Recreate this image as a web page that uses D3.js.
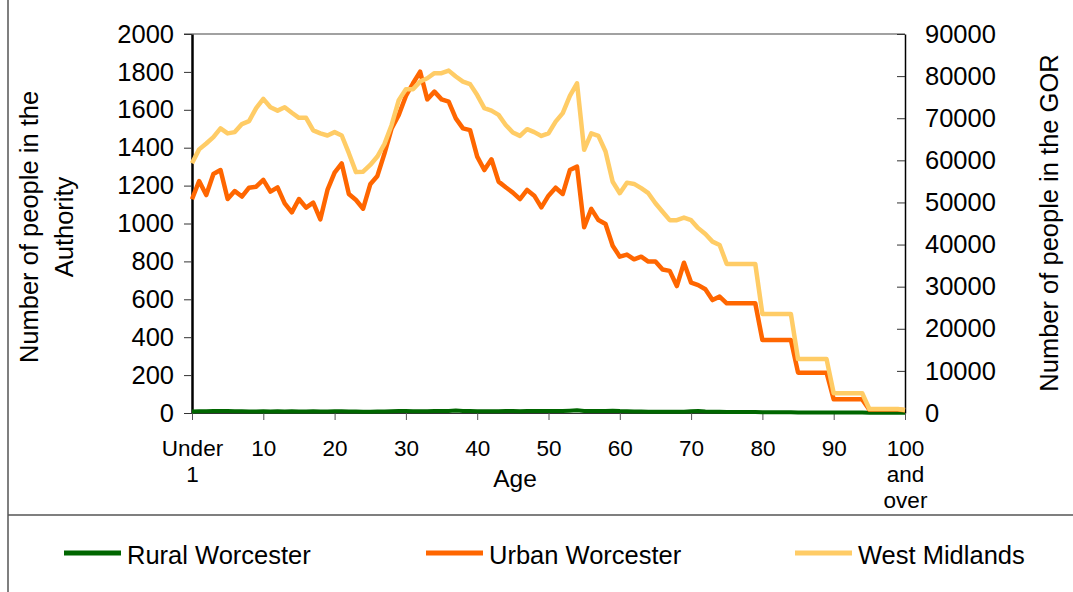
<!DOCTYPE html>
<html>
<head>
<meta charset="utf-8">
<script src="https://cdn.jsdelivr.net/npm/d3@7"></script>
<style>
  body { margin: 0; background: #fff; }
  svg { display: block; font-family: 'Liberation Sans', Arial, sans-serif; }
</style>
</head>
<body>
<div id="chart"></div>
<script>
/* global d3 */

// Ages 0 ("Under 1") to 100 ("100 and over")
const ages = d3.range(0, 101)

const tickAges = [0, 10, 20, 30, 40, 50, 60, 70, 80, 90, 100]
const tickLabels = [['Under', '1'], ['10'], ['20'], ['30'], ['40'], ['50'], ['60'], ['70'], ['80'], ['90'], ['100', 'and', 'over']]

const leftTicks = [0, 200, 400, 600, 800, 1000, 1200, 1400, 1600, 1800, 2000]
const rightTicks = [0, 10000, 20000, 30000, 40000, 50000, 60000, 70000, 80000, 90000]

// Number of people in the Authority (left axis)
const ruralWorcester = [
  8, 9, 9, 10, 10, 10, 9, 9, 8, 8,
  9, 8, 9, 8, 9, 8, 8, 9, 8, 8,
  9, 9, 8, 8, 7, 7, 8, 8, 9, 10,
  10, 9, 9, 9, 10, 10, 11, 13, 11, 10,
  9, 9, 9, 9, 10, 10, 9, 10, 10, 10,
  11, 10, 10, 12, 14, 11, 10, 10, 10, 12,
  10, 9, 8, 8, 7, 7, 7, 7, 7, 7,
  9, 10, 8, 7, 6, 5, 5, 5, 5, 5,
  4, 4, 4, 4, 4, 3, 3, 3, 3, 3,
  2, 2, 2, 2, 2, 1, 1, 1, 1, 1,
  1
]

const urbanWorcester = [
  1128, 1224, 1150, 1261, 1282, 1129, 1171, 1142, 1189, 1194,
  1230, 1168, 1191, 1106, 1059, 1129, 1084, 1110, 1022, 1177,
  1268, 1317, 1156, 1124, 1078, 1207, 1251, 1370, 1502, 1573,
  1673, 1740, 1801, 1655, 1696, 1655, 1643, 1555, 1502, 1493,
  1353, 1282, 1339, 1221, 1191, 1163, 1129, 1177, 1147, 1085,
  1147, 1189, 1156, 1282, 1300, 980, 1077, 1018, 997, 883,
  825, 836, 811, 825, 799, 800, 757, 750, 670, 793,
  688, 675, 653, 596, 614, 579, 579, 579, 579, 579,
  385, 385, 385, 385, 385, 213, 213, 213, 213, 213,
  72, 72, 72, 72, 72, 18, 18, 18, 18, 18,
  15
]

// Number of people in the GOR (right axis)
const westMidlands = [
  59300, 62600, 64000, 65500, 67600, 66400, 66700, 68600, 69300, 72400,
  74600, 72600, 71800, 72600, 71300, 70100, 70100, 67100, 66400, 65900,
  66700, 65900, 61700, 57200, 57300, 58900, 60900, 63900, 68400, 74300,
  76900, 76900, 78700, 79500, 80700, 80700, 81300, 79900, 78700, 78100,
  75500, 72400, 71800, 70800, 68400, 66600, 65800, 67400, 66700, 65800,
  66400, 69200, 71200, 75300, 78300, 62500, 66400, 65800, 62100, 54900,
  52200, 54700, 54400, 53400, 52200, 49800, 47800, 45800, 45800, 46400,
  45800, 43900, 42500, 40700, 39900, 35400, 35400, 35400, 35400, 35400,
  23500, 23500, 23500, 23500, 23500, 12800, 12800, 12800, 12800, 12800,
  4700, 4700, 4700, 4700, 4700, 950, 950, 950, 950, 950,
  700
]

const seriesNames = ['Rural Worcester', 'Urban Worcester', 'West Midlands']
const seriesColors = ['#006600', '#ff6600', '#ffcc66']

// Our canvas
const width = 1073,
  height = 592,
  plotLeft = 192,
  plotRight = 905,
  plotTop = 34,
  plotBottom = 413

let svg = d3.select('#chart')
  .append('svg')
  .attr('width', width)
  .attr('height', height)

const x = d3.scaleLinear().domain([0, 100]).range([plotLeft, plotRight])
const yLeft = d3.scaleLinear().domain([0, 2000]).range([plotBottom, plotTop])
const yRight = d3.scaleLinear().domain([0, 90000]).range([plotBottom, plotTop])

// outer frame pieces
svg.append('line')
  .attr('x1', 8).attr('x2', 8).attr('y1', 0).attr('y2', height)
  .attr('stroke', '#555').attr('stroke-width', 1.5)
svg.append('line')
  .attr('x1', 8).attr('x2', width).attr('y1', 515).attr('y2', 515)
  .attr('stroke', '#555').attr('stroke-width', 1.5)

// plot area top border
svg.append('line')
  .attr('x1', plotLeft - 8).attr('x2', plotRight).attr('y1', plotTop).attr('y2', plotTop)
  .attr('stroke', '#444').attr('stroke-width', 1.2)

// left axis
const gLeft = svg.append('g')
  .attr('transform', `translate(${plotLeft}, 0)`)
  .call(d3.axisLeft(yLeft).tickValues(leftTicks).tickFormat(d3.format('d'))
    .tickSizeInner(8).tickSizeOuter(0).tickPadding(10))
gLeft.attr('font-family', null).attr('font-size', null)
gLeft.select('.domain').attr('stroke', '#000').attr('stroke-width', 2.5)
gLeft.selectAll('.tick line').attr('stroke', '#333')
gLeft.selectAll('.tick text').attr('font-size', 25.5).attr('fill', '#000')

// right axis
const gRight = svg.append('g')
  .attr('transform', `translate(${plotRight}, 0)`)
  .call(d3.axisRight(yRight).tickValues(rightTicks).tickFormat(d3.format('d'))
    .tickSizeInner(-8).tickSizeOuter(0).tickPadding(20))
gRight.attr('font-family', null).attr('font-size', null)
gRight.select('.domain').attr('stroke', '#000').attr('stroke-width', 1.5)
gRight.selectAll('.tick line').attr('stroke', '#333')
gRight.selectAll('.tick text').attr('font-size', 25.5).attr('fill', '#000')

// bottom axis
const gBottom = svg.append('g')
  .attr('transform', `translate(0, ${plotBottom})`)
  .call(d3.axisBottom(x).tickValues(tickAges).tickSizeInner(7).tickSizeOuter(0).tickFormat(''))
gBottom.attr('font-family', null).attr('font-size', null)
gBottom.select('.domain').attr('stroke', '#333')
gBottom.selectAll('.tick line').attr('stroke', '#555')
gBottom.selectAll('.tick').each(function (d, i) {
  const t = d3.select(this).select('text')
    .attr('y', 43)
    .attr('dy', null)
    .attr('font-size', 22.5)
    .attr('fill', '#000')
  tickLabels[i].forEach((s, j) => {
    t.append('tspan').attr('x', 0).attr('dy', j === 0 ? 0 : 26).text(s)
  })
})

// series
const line = (scale) => d3.line()
  .x((d, i) => x(ages[i]))
  .y(d => scale(d))

const series = [
  { values: ruralWorcester, scale: yLeft, width: 4 },
  { values: urbanWorcester, scale: yLeft, width: 4.5 },
  { values: westMidlands, scale: yRight, width: 4.5 }
]

series.forEach((s, i) => {
  svg.append('path')
    .datum(s.values)
    .attr('d', line(s.scale))
    .attr('fill', 'none')
    .attr('stroke', seriesColors[i])
    .attr('stroke-width', s.width)
    .attr('stroke-linejoin', 'round')
})

// axis titles
svg.append('text')
  .attr('transform', 'translate(38, 227) rotate(-90)')
  .attr('text-anchor', 'middle')
  .attr('font-size', 25.5)
  .text('Number of people in the')
svg.append('text')
  .attr('transform', 'translate(73, 227) rotate(-90)')
  .attr('text-anchor', 'middle')
  .attr('font-size', 25.5)
  .text('Authority')
svg.append('text')
  .attr('transform', 'translate(1058, 223) rotate(-90)')
  .attr('text-anchor', 'middle')
  .attr('font-size', 25.5)
  .text('Number of people in the GOR')
svg.append('text')
  .attr('x', 515)
  .attr('y', 487)
  .attr('text-anchor', 'middle')
  .attr('font-size', 24.5)
  .text('Age')

// legend
const legendX = [64, 426, 795]
const legend = svg.selectAll('.legend')
  .data(seriesNames)
  .enter()
  .append('g')
  .attr('class', 'legend')
  .attr('transform', (d, i) => `translate(${legendX[i]}, 553)`)

legend.append('line')
  .attr('x1', 0).attr('x2', 57)
  .attr('stroke', (d, i) => seriesColors[i])
  .attr('stroke-width', 5)
legend.append('text')
  .attr('x', 63)
  .attr('y', 11)
  .attr('font-size', 25.5)
  .text(d => d)
</script>
</body>
</html>
